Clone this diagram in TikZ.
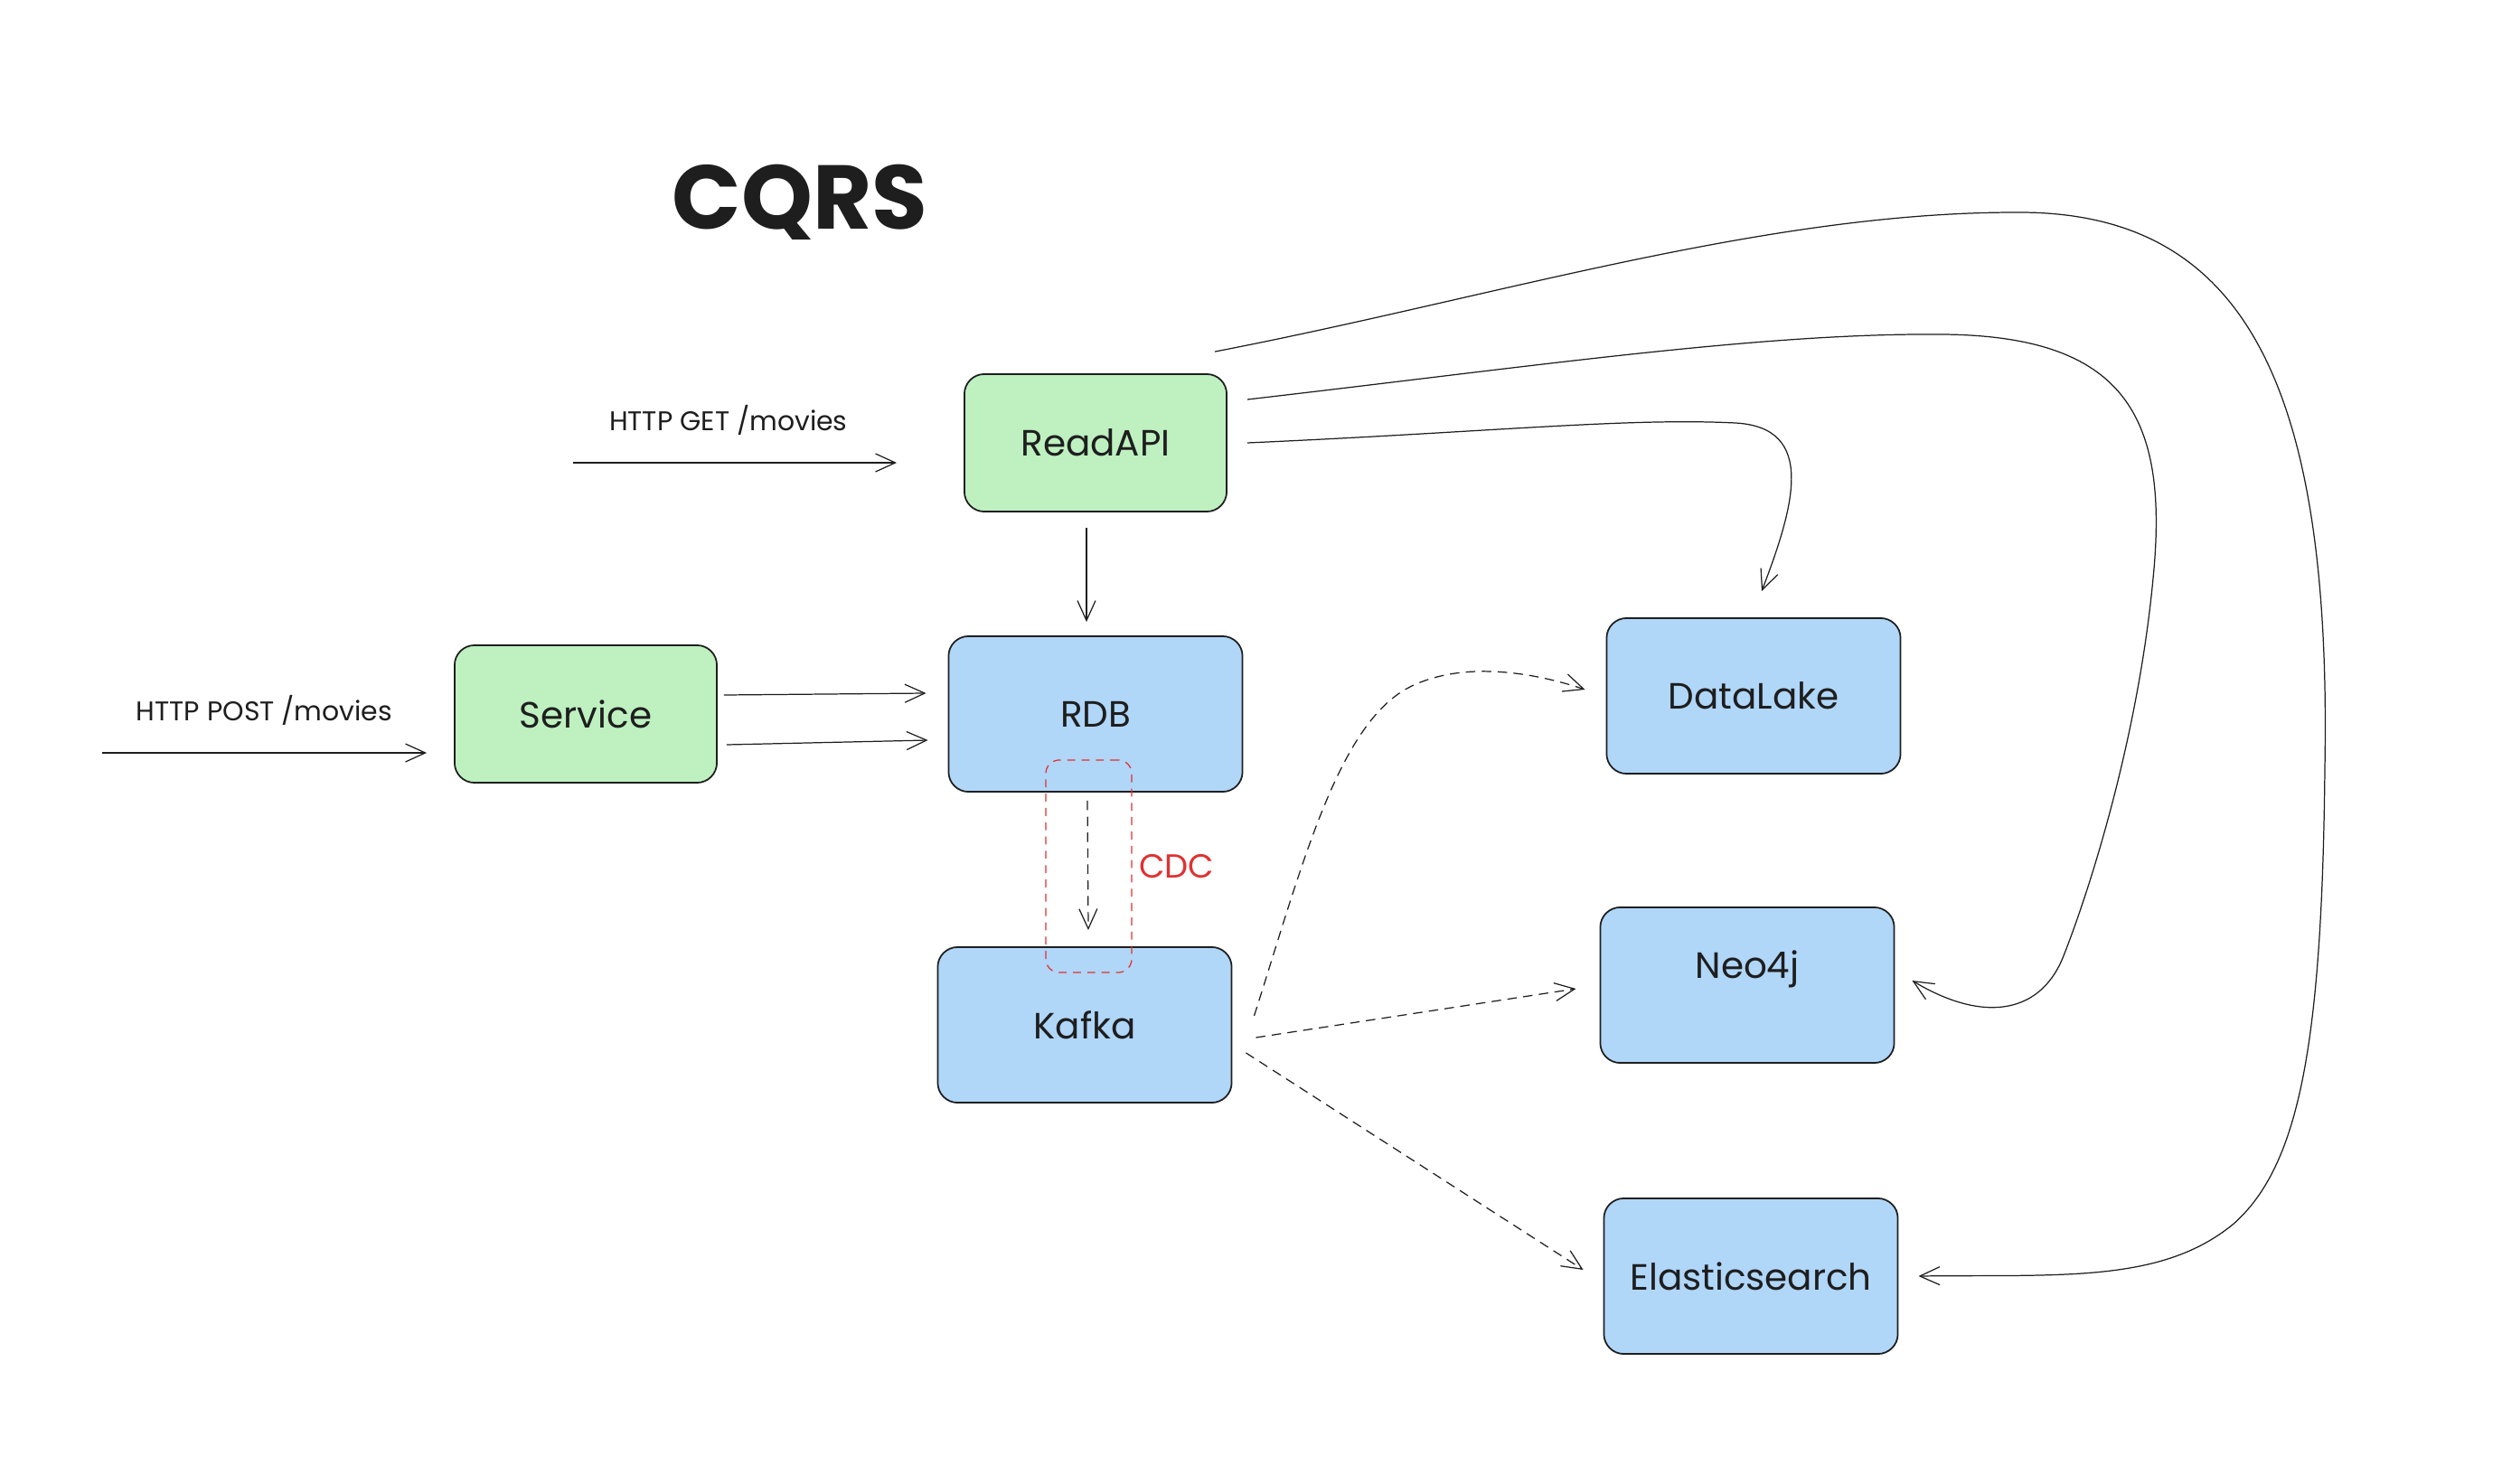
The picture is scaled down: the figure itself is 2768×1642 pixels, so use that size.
\documentclass[tikz,border=0pt]{standalone}
\usepackage{fontspec}
\setmainfont{Poppins}
\usetikzlibrary{arrows.meta,positioning}
\usetikzlibrary{calc}
\definecolor{ink}{HTML}{1E1E1E}
\definecolor{readgreen}{HTML}{BEF0C0}
\definecolor{storeblue}{HTML}{B0D6F8}
\definecolor{cdcred}{HTML}{E03131}
\tikzset{
  define coordinates/.style={
    execute at begin picture={
      \coordinate (T) at (885,224);   % title
      \coordinate (R) at (1212,490);  % ReadAPI
      \coordinate (S) at (648,790);   % Service
      \coordinate (D) at (1212,790);  % RDB
      \coordinate (K) at (1200,1134); % Kafka
      \coordinate (L) at (1940,770);  % DataLake
      \coordinate (N) at (1933,1090); % Neo4j
      \coordinate (E) at (1937,1412); % Elasticsearch
      \coordinate (C) at (1204.5,958.5); % CDC frame
      \coordinate (G) at (634,512);   % GET request comes in
      \coordinate (P) at (113,833);   % POST request comes in
   }
 },
every picture/.append style={x=0.01cm,y=-0.01cm,define coordinates}, % pixel grid, y down
  box/.style={draw=ink, line width=0.5pt, rounded corners=0.22cm, text=ink,
    font=\fontsize{11.5}{14}\selectfont},
  readbox/.style={box, fill=readgreen, minimum width=2.9cm, minimum height=1.52cm},
  storebox/.style={box, fill=storeblue, minimum width=3.25cm, minimum height=1.72cm},
  flow/.style={draw=ink, line width=0.35pt, -{Straight Barb[length=0.22cm,width=0.2cm]}},
  sync/.style={flow, dash pattern=on 3pt off 2pt},
  request/.style={text=ink, inner sep=0pt, font=\fontsize{8.5}{10}\selectfont},
  heading/.style={text=ink, font=\fontsize{28.5}{34}\selectfont\bfseries},
  cdcbox/.style={draw=cdcred, line width=0.35pt, dash pattern=on 2.5pt off 2pt,
    rounded corners=0.15cm, minimum width=0.95cm, minimum height=2.35cm},
  cdclabel/.style={text=cdcred, inner sep=0pt, font=\fontsize{10.5}{12}\selectfont}
}

\begin{document}
\begin{tikzpicture}

\fill[white] (0,0) rectangle (2768,1642);
\useasboundingbox (0,0) rectangle (2768,1642);

% Draw the title
\node[heading] (title) at (T) {CQRS};

% Draw the services and the stores
\node[readbox]  (readapi) at (R) {ReadAPI};
\node[readbox]  (service) at (S) {Service};
\node[storebox] (rdb)     at (D) {RDB};
\node[storebox] (kafka)   at (K) {Kafka};
\node[storebox] (datalake) at (L) {DataLake};
\node[storebox, text depth=0.45cm] (neo) at (N) {Neo4j};
\node[storebox] (elastic) at (E) {Elasticsearch};

% Draw the incoming requests
\draw[flow] (G) -- node[request, above=0.3cm, pos=0.48] (getlabel) {HTTP GET /movies}
      ($(readapi.west)+(-74,22)$);
\draw[flow] (P) -- node[request, above=0.3cm] (postlabel) {HTTP POST /movies}
      ($(service.west)+(-30,43)$);

% Draw the writes and the reads on the RDB
\draw[flow] ($(service.east)+(7,-21)$) -- ($(rdb.west)+(-24,-23)$);
\draw[flow] ($(service.east)+(10,34)$) -- ($(rdb.west)+(-22,29)$);
\draw[flow] ($(readapi.south)+(-10,17)$) -- ($(rdb.north)+(-10,-15)$);

% Draw the CDC frame and its label
\draw[sync] ($(rdb.south)+(-9,9)$) -- ($(kafka.north)+(4,-18)$);
\node[cdcbox] (cdc) at (C) {};
\node[cdclabel, right=0.07cm of cdc] (cdctext) {CDC};

% Draw the fan out from Kafka
\draw[sync] ($(kafka.east)+(24,-10)$) .. controls (1440,960) and (1480,800) .. (1560,760)
      .. controls (1620,730) and (1700,745) .. ($(datalake.west)+(-23,-7)$);
\draw[sync] ($(kafka.east)+(26,14)$) -- ($(neo.west)+(-26,4)$);
\draw[sync] ($(kafka.east)+(15,31)$) -- ($(elastic.west)+(-22,-7)$);

% Draw the queries from ReadAPI
\draw[flow] ($(readapi.east)+(22,0)$) .. controls (1650,478) and (1800,462) .. (1920,468)
      .. controls (2010,473) and (1985,560) .. ($(datalake.north)+(9,-29)$);
\draw[flow] ($(readapi.east)+(22,-48)$) .. controls (1700,405) and (1950,368) .. (2150,370)
      .. controls (2350,372) and (2400,460) .. (2382,640)
      .. controls (2365,820) and (2310,990) .. (2282,1060)
      .. controls (2255,1125) and (2190,1130) .. ($(neo.east)+(19,-5)$);
\draw[flow] ($(readapi.north east)+(-14,-24)$) .. controls (1650,330) and (1950,235) .. (2230,235)
      .. controls (2480,233) and (2580,420) .. (2572,850)
      .. controls (2569,1150) and (2545,1290) .. (2470,1355)
      .. controls (2390,1420) and (2280,1410) .. ($(elastic.east)+(22,0)$);

\end{tikzpicture}
\end{document}
